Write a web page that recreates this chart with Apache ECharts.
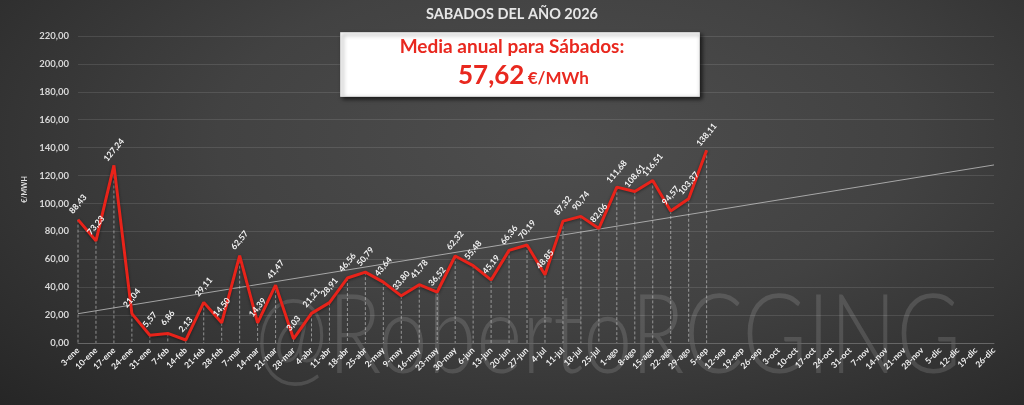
<!DOCTYPE html>
<html>
<head>
<meta charset="utf-8">
<script src="https://cdn.jsdelivr.net/npm/echarts@6/dist/echarts.min.js"></script>
<style>
  html,body{margin:0;padding:0;width:1024px;height:405px;overflow:hidden;}
  body{background:radial-gradient(ellipse 75% 95% at 55% 35%, #4e4e4e 0%, #424242 45%, #303030 80%, #262626 100%);}
  #chart{width:1024px;height:405px;}
</style>
</head>
<body>
<div id="chart"></div>
<script>
// categorias: sabados del año
const sabados = ['3-ene','10-ene','17-ene','24-ene','31-ene','7-feb','14-feb','21-feb','28-feb',
  '7-mar','14-mar','21-mar','28-mar','4-abr','11-abr','18-abr','25-abr','2-may','9-may','16-may',
  '23-may','30-may','6-jun','13-jun','20-jun','27-jun','4-jul','11-jul','18-jul','25-jul','1-ago',
  '8-ago','15-ago','22-ago','29-ago','5-sep','12-sep','19-sep','26-sep','3-oct','10-oct','17-oct',
  '24-oct','31-oct','7-nov','14-nov','21-nov','28-nov','5-dic','12-dic','19-dic','26-dic'];

// precio medio de cada sabado (€/MWh)
const precios = [88.43,73.23,127.24,21.04,5.57,6.86,2.13,29.11,14.50,62.57,14.39,41.47,3.03,
  21.21,28.91,46.56,50.79,43.64,33.80,41.78,36.52,62.32,55.48,45.19,66.36,70.19,48.85,87.32,
  90.74,82.06,111.68,108.61,116.51,94.57,103.37,138.11];

// linea de tendencia: valor al inicio y al final del año
const tendencia = [21.0, 127.6];

const yTicks = {min:0, max:220, interval:20};
const mediaAnual = '57,62';

const fmt = v => v.toFixed(2).replace('.', ',');

const trendData = sabados.map((c, i) => i === 0 ? tendencia[0] : (i === sabados.length - 1 ? tendencia[1] : null));

const chart = echarts.init(document.getElementById('chart'));
const option = {
  backgroundColor: 'transparent',
  animation: false,
  grid: {left: 78, right: 30, top: 36, bottom: 62},
  xAxis: {
    type: 'category',
    data: sabados,
    boundaryGap: false,
    axisLine: {lineStyle: {color: '#666'}},
    axisTick: {show: false},
    axisLabel: {
      rotate: 45, interval: 0, color: '#f2f2f2', fontSize: 8.5, fontWeight: 'bold',
      fontFamily: 'Lato', margin: 6
    },
    splitLine: {show: false}
  },
  yAxis: {
    type: 'value',
    min: yTicks.min, max: yTicks.max, interval: yTicks.interval,
    name: '€/MWH',
    nameLocation: 'middle',
    nameGap: 43,
    nameRotate: 90,
    nameTextStyle: {color: '#e0e0e0', fontSize: 7, fontWeight: 'bold', fontFamily: 'Lato'},
    axisLine: {show: false},
    axisTick: {show: false},
    axisLabel: {
      color: '#d8d8d8', fontSize: 9.5, fontWeight: 'bold', fontFamily: 'Lato', margin: 9,
      formatter: v => fmt(v)
    },
    splitLine: {lineStyle: {color: 'rgba(255,255,255,0.11)', width: 1}}
  },
  graphic: [
    {
      type: 'text', x: 255, y: 283, scaleX: 0.8, z: 0, silent: true,
      style: {
        x: 0, y: 0, text: '@RobertoRCGING', fill: 'rgba(210,210,210,0.17)',
        font: '300 110px Lato', textVerticalAlign: 'top'
      }
    },
    {
      type: 'text', left: 'center', top: 7,
      style: {
        text: 'SABADOS DEL AÑO 2026', fill: '#e6e6e6',
        font: 'bold 14.5px Lato'
      }
    },
    {
      type: 'rect', left: 340, top: 32, z: 10,
      shape: {width: 359, height: 64},
      style: {fill: '#ffffff', stroke: '#cfcfcf', lineWidth: 1,
        shadowColor: 'rgba(0,0,0,0.6)', shadowBlur: 4, shadowOffsetX: 2, shadowOffsetY: 2}
    },
    {
      type: 'text', left: 'center', top: 37, z: 11,
      style: {text: 'Media anual para Sábados:', fill: '#e8281f', font: 'bold 19px Lato'}
    },
    {
      type: 'text', left: 458, top: 63, z: 11,
      style: {
        text: '{a|' + mediaAnual + '} {b|€/MWh}',
        fill: '#e8281f',
        rich: {
          a: {fill: '#e8281f', fontSize: 26, fontWeight: 'bold', fontFamily: 'Lato'},
          b: {fill: '#e8281f', fontSize: 17, fontWeight: 'bold', fontFamily: 'Lato', padding: [6, 0, 0, 0]}
        }
      }
    }
  ],
  series: [
    {
      name: 'guias',
      type: 'custom',
      z: 1,
      silent: true,
      renderItem: (params, api) => {
        const top = api.coord([api.value(0), api.value(1)]);
        const bot = api.coord([api.value(0), 0]);
        return {
          type: 'line',
          shape: {x1: top[0], y1: top[1], x2: bot[0], y2: bot[1]},
          style: {stroke: 'rgba(220,220,220,0.55)', lineWidth: 1, lineDash: [3, 2]}
        };
      },
      data: precios.map((v, i) => [i, v])
    },
    {
      name: 'Tendencia',
      type: 'line',
      z: 2,
      data: trendData,
      connectNulls: true,
      showSymbol: false,
      symbol: 'none',
      lineStyle: {color: 'rgba(200,200,200,0.75)', width: 1}
    },
    {
      name: 'Precio',
      type: 'line',
      z: 3,
      data: precios,
      symbol: 'circle',
      symbolSize: 1,
      showSymbol: true,
      showAllSymbol: true,
      itemStyle: {color: 'rgba(0,0,0,0)'},
      lineStyle: {color: '#e8231a', width: 3, shadowColor: 'rgba(0,0,0,0.45)', shadowBlur: 3, shadowOffsetY: 1},
      label: {
        show: true, position: 'top', distance: 15, rotate: 50,
        align: 'center', verticalAlign: 'middle',
        color: '#f4f4f4', fontSize: 8.5, fontWeight: 'bold', fontFamily: 'Lato',
        formatter: p => fmt(p.value)
      },
      labelLayout: {hideOverlap: false}
    }
  ]
};
chart.setOption(option);
window.addEventListener('resize', () => chart.resize());
</script>
</body>
</html>
